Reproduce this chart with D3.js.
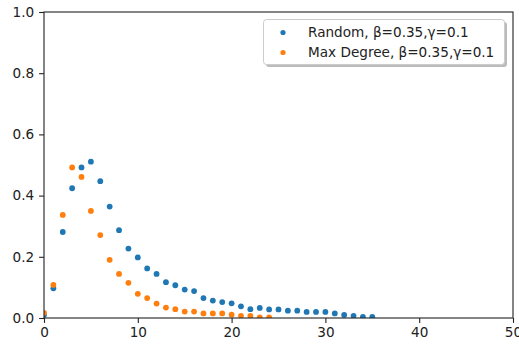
<!DOCTYPE html>
<html><head><meta charset="utf-8">
<script src="https://cdn.jsdelivr.net/npm/d3@7"></script>
<style>body{margin:0;background:#fff}text{font-family:"DejaVu Sans",sans-serif}</style>
</head><body>
<script>
const steps = d3.range(0, 36);
const randomVals = [0.01,0.097,0.281,0.424,0.492,0.511,0.447,0.364,0.287,0.227,0.198,0.162,0.144,0.117,0.107,0.093,0.088,0.065,0.057,0.052,0.048,0.038,0.029,0.033,0.028,0.028,0.024,0.024,0.020,0.020,0.020,0.015,0.010,0.007,0.004,0.004];
const maxDegSteps = d3.range(0, 25);
const maxDegVals = [0.017,0.108,0.337,0.492,0.461,0.350,0.271,0.190,0.144,0.115,0.079,0.065,0.047,0.034,0.029,0.021,0.021,0.015,0.015,0.015,0.011,0.007,0.007,0.002,0.002];
const xTicks = [0,10,20,30,40,50];
const yTicks = [0,0.2,0.4,0.6,0.8,1.0];
const seriesNames = ["Random, β=0.35,γ=0.1","Max Degree, β=0.35,γ=0.1"];
const colors = ["#1f77b4","#ff7f0e"];

const W=519,H=348, L=44, R=513, T=12, B=318;
const svg=d3.select("body").append("svg").attr("width",W).attr("height",H);
const x=d3.scaleLinear().domain([0,50]).range([L,R]);
const y=d3.scaleLinear().domain([0,1]).range([B,T]);

const series=[
  {pts: steps.map((s,i)=>[s,randomVals[i]]), c: colors[0]},
  {pts: maxDegSteps.map((s,i)=>[s,maxDegVals[i]]), c: colors[1]}
];
svg.append("clipPath").attr("id","cp").append("rect").attr("x",L).attr("y",T).attr("width",R-L).attr("height",B-T);
const g=svg.append("g").attr("clip-path","url(#cp)");
series.forEach(s=>{
  g.selectAll(null).data(s.pts).enter().append("circle")
   .attr("cx",d=>x(d[0])).attr("cy",d=>y(d[1])).attr("r",2.9).attr("fill",s.c);
});

const xa=svg.append("g").attr("transform",`translate(0,${B})`)
  .call(d3.axisBottom(x).tickValues(xTicks).tickFormat(d3.format("d")).tickSize(4.9).tickPadding(4.9));
const ya=svg.append("g").attr("transform",`translate(${L},0)`)
  .call(d3.axisLeft(y).tickValues(yTicks).tickFormat(d3.format(".1f")).tickSize(4.9).tickPadding(4.9));
[xa,ya].forEach(a=>{a.select(".domain").remove();a.selectAll("text").attr("font-size",13.6).attr("fill","#222").attr("font-family","DejaVu Sans");a.selectAll("line").attr("stroke","#222").attr("stroke-width",1.1);});
svg.append("rect").attr("x",L).attr("y",T).attr("width",R-L).attr("height",B-T).attr("fill","none").attr("stroke","#222").attr("stroke-width",1.1);

// legend
const lg=svg.append("g");
lg.append("rect").attr("x",266).attr("y",22).attr("width",241).attr("height",45).attr("rx",3).attr("fill","#777").attr("opacity",0.5);
lg.append("rect").attr("x",263.5).attr("y",19.5).attr("width",241).attr("height",45).attr("rx",3).attr("fill","#fff").attr("stroke","#ccc").attr("stroke-width",1);
seriesNames.forEach((n,i)=>{
  lg.append("circle").attr("cx",283).attr("cy",32.5+i*20).attr("r",2.6).attr("fill",colors[i]);
  lg.append("text").attr("x",308).attr("y",32.5+i*20).attr("dy","0.36em").attr("font-size",13.6).attr("fill","#222").text(n);
});
</script>
</body></html>
